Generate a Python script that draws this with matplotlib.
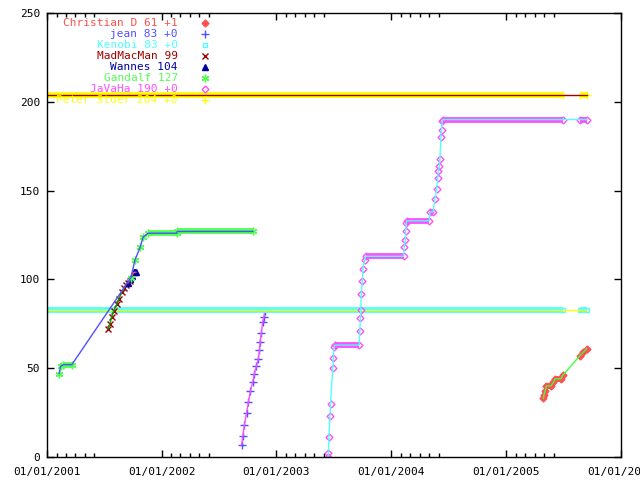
import matplotlib
matplotlib.use("Agg")
import matplotlib.dates as mdates
import matplotlib.pyplot as plt
import numpy as np
import pandas as pd

# score history per player (date, score)
christian_dates = ["2005-04-29", "2005-05-01", "2005-05-04", "2005-05-09", "2005-05-23",
                   "2005-05-31", "2005-06-05", "2005-06-24", "2005-06-30",
                   "2005-08-23", "2005-09-03", "2005-09-14"]
christian_vals = [33, 35, 37, 40, 40, 42, 44, 44, 46, 57, 59, 61]

jean_dates = ["2002-09-12", "2002-09-16", "2002-09-21", "2002-09-28", "2002-10-04",
              "2002-10-10", "2002-10-17", "2002-10-23", "2002-10-29", "2002-11-04",
              "2002-11-08", "2002-11-10", "2002-11-14", "2002-11-18", "2002-11-22",
              "2002-11-25"]
jean_vals = [7, 12, 18, 25, 31, 37, 42, 47, 51, 55, 60, 65, 70, 76, 79, 82]

kenobi_dates = ["2001-01-01", "2005-06-30", "2005-08-23", "2005-09-15"]
kenobi_vals = [83, 83, 83, 83]

madmacman_dates = ["2001-07-14", "2001-07-20", "2001-07-26", "2001-08-01", "2001-08-11",
                   "2001-08-18", "2001-08-27", "2001-09-03", "2001-09-09", "2001-09-15",
                   "2001-09-22"]
madmacman_vals = [72, 75, 79, 82, 86, 89, 93, 95, 97, 98, 99]

wannes_dates = ["2001-09-16", "2001-09-22", "2001-09-28", "2001-10-04", "2001-10-11"]
wannes_vals = [98, 100, 102, 104, 104]

gandalf_dates = ["2001-02-09", "2001-02-13", "2001-02-22", "2001-03-21",
                 "2001-09-25", "2001-10-08", "2001-10-24", "2001-11-03", "2001-11-19",
                 "2002-02-18", "2002-02-19", "2002-10-18"]
gandalf_vals = [47, 51, 52, 52, 101, 111, 118, 124, 126, 126, 127, 127]

javaha_dates = ["2003-06-14", "2003-06-15", "2003-06-17", "2003-06-20", "2003-06-22",
                "2003-06-29", "2003-07-01", "2003-07-03", "2003-07-06", "2003-09-21",
                "2003-09-23", "2003-09-25", "2003-09-26", "2003-09-28", "2003-10-01",
                "2003-10-03", "2003-10-09", "2003-10-12", "2004-02-10", "2004-02-11",
                "2004-02-15", "2004-02-16", "2004-02-18", "2004-02-19", "2004-05-01",
                "2004-05-03", "2004-05-13", "2004-05-19", "2004-05-25", "2004-05-28",
                "2004-05-30", "2004-06-02", "2004-06-04", "2004-06-07", "2004-06-09",
                "2004-06-11", "2004-06-13", "2005-06-30", "2005-08-23", "2005-09-15"]
javaha_vals = [0, 2, 11, 23, 30, 50, 56, 62, 63, 63,
               71, 78, 83, 92, 99, 106, 111, 113, 113, 118,
               122, 127, 132, 133, 133, 138, 138, 145, 151, 157,
               161, 164, 168, 180, 184, 189, 190, 190, 190, 190]

peter_dates = ["2001-01-01", "2005-06-30", "2005-08-23", "2005-09-15"]
peter_vals = [204, 204, 204, 204]

labels = ["Christian D 61 +1", "jean 83 +0", "Kenobi 83 +0", "MadMacMan 99",
          "Wannes 104", "Gandalf 127", "JaVaHa 190 +0", "Peter Stuer 204 +0"]

# no data between these two dates
gap_start = pd.Timestamp("2005-07-01")
gap_end = pd.Timestamp("2005-08-22")

series = [
    # dates, values, point colour, line colour, marker, size, filled
    (christian_dates, christian_vals, "#ff5050", "#40ff40", "D", 3.5, True),
    (jean_dates, jean_vals, "#5050ff", "#ff50ff", "+", 5.5, False),
    (kenobi_dates, kenobi_vals, "#50ffff", "#ffff00", "s", 3.5, False),
    (madmacman_dates, madmacman_vals, "#a00000", "#00a000", "x", 4, False),
    (wannes_dates, wannes_vals, "#0000a0", "#ff5050", "^", 4, True),
    (gandalf_dates, gandalf_vals, "#50ff50", "#5050ff", (6, 2, 0), 5.5, False),
    (javaha_dates, javaha_vals, "#ff50ff", "#50ffff", "D", 3.5, False),
    (peter_dates, peter_vals, "#ffff00", "#a00000", "+", 5.5, False),
]

plt.rcParams["font.family"] = "DejaVu Sans Mono"
plt.rcParams["font.size"] = 8

fig = plt.figure(figsize=(6.4, 4.8), dpi=100)
ax = fig.add_axes([47 / 640, 23 / 480, 574 / 640, 444 / 480])

for dates, vals, pcol, lcol, mk, ms, filled in series:
    t = pd.to_datetime(dates)
    v = np.array(vals, dtype=float)
    # runs of identical daily scores show up as solid bands of points
    for i in range(len(v) - 1):
        across_gap = t[i] <= gap_start and t[i + 1] >= gap_end
        if v[i] == v[i + 1] and not across_gap:
            ax.plot(t[i:i + 2], v[i:i + 2], color=pcol, lw=4.2,
                    solid_capstyle="butt", zorder=2)
    ax.plot(t, v, ls="none", marker=mk, ms=ms, mec=pcol,
            mfc=pcol if filled else "none", mew=1, zorder=2)
    ax.plot(t, v, color=lcol, lw=1, zorder=2)

# legend, gnuplot style: right aligned text then the point sample
for i, (lab, s) in enumerate(zip(labels, series)):
    y = 1 - (23.5 + 10.9 * i - 13) / 444
    ax.text(0.228, y, lab, color=s[2], ha="right", va="center",
            transform=ax.transAxes, zorder=5)
    ax.plot([0.275], [y], transform=ax.transAxes, ls="none", marker=s[4],
            ms=s[5], mec=s[2], mfc=s[2] if s[6] else "none", mew=1, zorder=5)

ax.set_xlim(pd.Timestamp("2001-01-01"), pd.Timestamp("2006-01-01"))
ax.set_ylim(0, 250)
ax.set_yticks(np.arange(0, 251, 50))
ax.xaxis.set_major_locator(mdates.YearLocator())
ax.xaxis.set_major_formatter(mdates.DateFormatter("%d/%m/%Y"))
ax.xaxis.set_minor_locator(mdates.MonthLocator(bymonth=[2, 3, 4, 5, 6]))

ax.tick_params(which="both", direction="in", top=True, right=True, width=1,
               color="black", labelcolor="black")
ax.tick_params(which="major", length=5)
ax.tick_params(which="minor", length=3)
ax.tick_params(axis="x", pad=7)
ax.tick_params(axis="y", pad=5)
for sp in ax.spines.values():
    sp.set_linewidth(1)

plt.savefig("out.png", dpi=100)
